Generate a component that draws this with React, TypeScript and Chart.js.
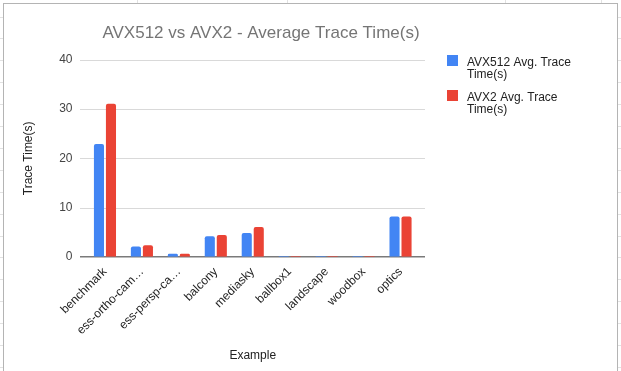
import React, { useEffect, useRef } from "react";
import { Chart, registerables } from "chart.js";

Chart.register(...registerables);

const categories = [
  "benchmark",
  "ess-ortho-cam…",
  "ess-persp-ca…",
  "balcony",
  "mediasky",
  "ballbox1",
  "landscape",
  "woodbox",
  "optics",
];
const avx512Values = [22.9, 2.05, 0.6, 4.15, 4.8, 0.15, 0.15, 0.15, 8.15];
const avx2Values = [31.1, 2.35, 0.6, 4.4, 6.05, 0.15, 0.15, 0.15, 8.15];
const seriesLabels = ["AVX512 Avg. Trace Time(s)", "AVX2 Avg. Trace Time(s)"];
const seriesColors = ["#4285F4", "#EA4335"];
const yMin = 0;
const yMax = 40;
const yStep = 10;
const chartTitle = "AVX512 vs AVX2 - Average Trace Time(s)";
const xTitle = "Example";
const yTitle = "Trace Time(s)";

const FONT = "'Liberation Sans', Arial, sans-serif";

const gridPlugin = {
  id: "gsGrid",
  beforeDatasetsDraw(chart: any) {
    const { ctx, chartArea } = chart;
    const y = chart.scales.y;
    ctx.save();
    ctx.strokeStyle = "#d9d9d9";
    ctx.lineWidth = 1;
    y.ticks.forEach((t: any) => {
      if (t.value === 0) return;
      const py = Math.round(y.getPixelForValue(t.value)) + 0.5;
      ctx.beginPath();
      ctx.moveTo(chartArea.left - 6.5, py);
      ctx.lineTo(chartArea.right + 6, py);
      ctx.stroke();
    });
    const p0 = y.getPixelForValue(0);
    ctx.strokeStyle = "#7a7a7a";
    ctx.lineWidth = 1.5;
    ctx.beginPath();
    ctx.moveTo(chartArea.left - 6.5, p0);
    ctx.lineTo(chartArea.right + 6, p0);
    ctx.stroke();
    ctx.restore();
  },
};

function wrapText(ctx: CanvasRenderingContext2D, text: string, maxW: number) {
  const words = text.split(" ");
  const lines: string[] = [];
  let cur = "";
  words.forEach((w) => {
    const test = cur ? cur + " " + w : w;
    if (ctx.measureText(test).width > maxW && cur) {
      lines.push(cur);
      cur = w;
    } else cur = test;
  });
  if (cur) lines.push(cur);
  return lines;
}

const decorPlugin = {
  id: "gsDecor",
  afterDraw(chart: any) {
    const { ctx } = chart;
    ctx.save();
    ctx.font = `17px ${FONT}`;
    ctx.fillStyle = "#757575";
    ctx.textAlign = "center";
    ctx.textBaseline = "alphabetic";
    ctx.fillText(chartTitle, 261, 37.5);
    ctx.font = `12px ${FONT}`;
    ctx.textAlign = "left";
    chart.data.datasets.forEach((ds: any, i: number) => {
      const top = 55 + i * 35;
      ctx.fillStyle = ds.backgroundColor;
      ctx.fillRect(447, top, 11, 11);
      ctx.fillStyle = "#222222";
      const lines = wrapText(ctx, ds.label, 115);
      lines.forEach((ln, j) => {
        ctx.fillText(ln, 467, top + 11 + j * 11.5);
      });
    });
    ctx.restore();
  },
};

export default function App() {
  const ref = useRef<HTMLCanvasElement | null>(null);

  useEffect(() => {
    if (!ref.current) return;
    Chart.defaults.font.family = FONT;
    const chart = new Chart(ref.current, {
      type: "bar",
      data: {
        labels: categories,
        datasets: [
          {
            label: seriesLabels[0],
            data: avx512Values,
            backgroundColor: seriesColors[0],
            borderRadius: { topLeft: 2, topRight: 2, bottomLeft: 0, bottomRight: 0 },
            borderSkipped: "start",
            categoryPercentage: 0.65,
            barPercentage: 0.84,
          },
          {
            label: seriesLabels[1],
            data: avx2Values,
            backgroundColor: seriesColors[1],
            borderRadius: { topLeft: 2, topRight: 2, bottomLeft: 0, bottomRight: 0 },
            borderSkipped: "start",
            categoryPercentage: 0.65,
            barPercentage: 0.84,
          },
        ],
      },
      options: {
        responsive: false,
        animation: false,
        devicePixelRatio: 1,
        layout: { padding: { top: 60, right: 202, left: 0, bottom: 0 } },
        plugins: {
          legend: { display: false },
          title: { display: false },
          tooltip: { enabled: false },
        },
        scales: {
          x: {
            offset: true,
            grid: { display: false, drawTicks: false },
            border: { display: false },
            ticks: {
              autoSkip: false,
              minRotation: 45,
              maxRotation: 45,
              padding: 8,
              color: "#222222",
              font: { size: 12, family: FONT },
            },
            title: {
              display: true,
              text: xTitle,
              color: "#222222",
              font: { size: 12, family: FONT },
              padding: { top: 0, bottom: 8 },
            },
            afterFit(scale: any) {
              scale.height = 114.3;
            },
          },
          y: {
            min: yMin,
            max: yMax,
            grid: { display: false, drawTicks: false },
            border: { display: false },
            ticks: {
              stepSize: yStep,
              padding: 14,
              color: "#444444",
              font: { size: 12, family: FONT },
            },
            title: {
              display: true,
              text: yTitle,
              color: "#222222",
              font: { size: 12, family: FONT },
              padding: { top: 21, bottom: 0 },
            },
            afterFit(scale: any) {
              scale.width = 86.5;
            },
          },
        },
      },
      plugins: [gridPlugin, decorPlugin],
    });
    return () => chart.destroy();
  }, []);

  const rows: number[] = [];
  for (let k = 0; k < 17; k++) rows.push(16.5 + 21.9 * k);
  const cols = [137, 287, 505, 601];

  return (
    <div style={{ position: "absolute", left: 0, top: 0, width: 621, height: 371, overflow: "hidden", background: "#fff" }}>
      {rows.map((r, i) => (
        <React.Fragment key={"r" + i}>
          <div style={{ position: "absolute", left: 0, top: Math.round(r), width: 3, height: 1, background: "#e2e2e2" }} />
          <div style={{ position: "absolute", left: 618, top: Math.round(r), width: 3, height: 1, background: "#e2e2e2" }} />
        </React.Fragment>
      ))}
      {cols.map((c, i) => (
        <div key={"c" + i} style={{ position: "absolute", left: c, top: 0, width: 1, height: 3, background: "#e2e2e2" }} />
      ))}
      <div
        style={{
          position: "absolute",
          left: 3,
          top: 3,
          width: 613,
          height: 380,
          borderLeft: "1px solid #b4b4b4",
          borderTop: "1px solid #b4b4b4",
          borderRight: "1px solid #b4b4b4",
          background: "#fff",
        }}
      />
      <canvas ref={ref} width={621} height={371} style={{ position: "absolute", left: 0, top: 0 }} />
    </div>
  );
}
